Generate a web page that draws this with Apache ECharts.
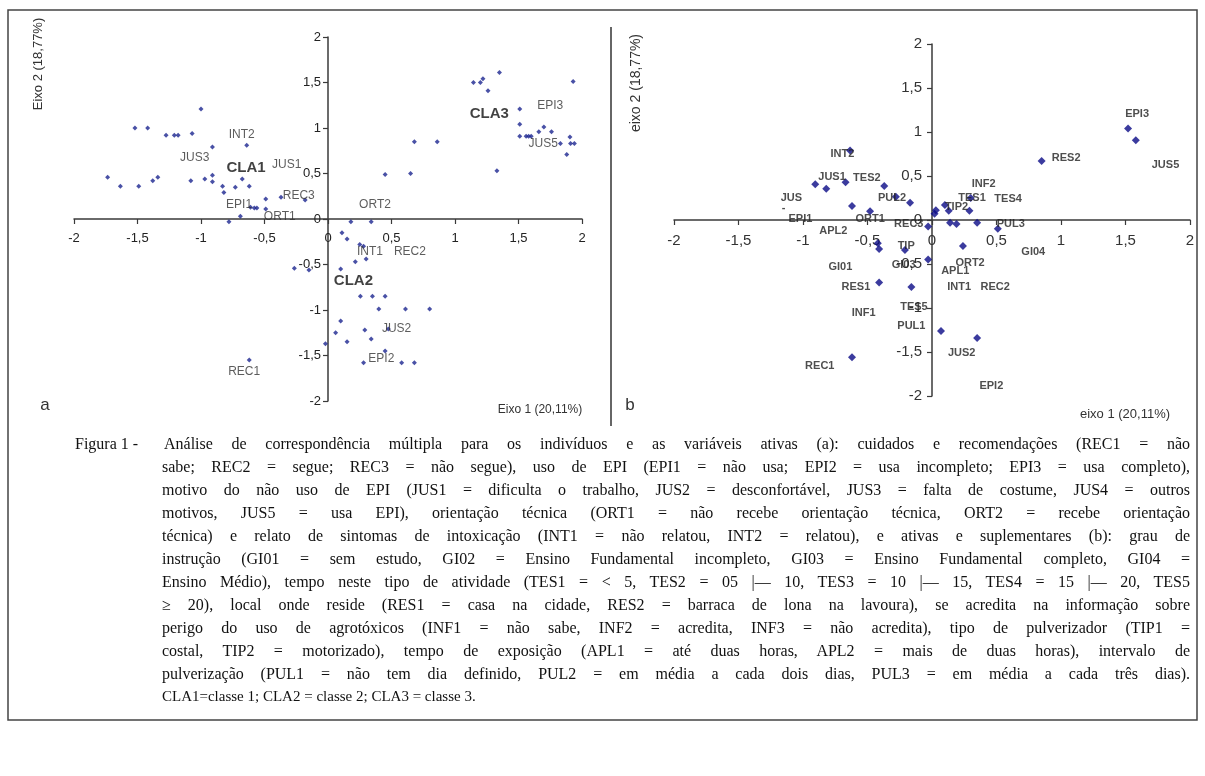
<!DOCTYPE html>
<html>
<head>
<meta charset="utf-8">
<script src="https://cdn.jsdelivr.net/npm/echarts@6/dist/echarts.min.js"></script>
<style>
  html, body { margin: 0; padding: 0; background: #fff; }
  #wrap { position: relative; width: 1205px; height: 776px; overflow: hidden; }
  #chart { position: absolute; left: 0; top: 0; width: 1205px; height: 776px; }
  #caption { position: absolute; left: 0; top: 0; width: 1205px; font-family: "Liberation Serif", "Times New Roman", serif; font-size: 16px; color: #111; }
  .cl { position: absolute; white-space: nowrap; line-height: 23px; height: 23px; text-align: justify; text-align-last: justify; }
  .cl.last { text-align: left; text-align-last: left; }
  .cl.small { font-size: 15px; }
</style>
</head>
<body>
<div id="wrap">
  <div id="chart"></div>
  <div id="caption"></div>
</div>
<script>
// ---------- data: panel (a) ----------
const ticksA = [-2, -1.5, -1, -0.5, 0, 0.5, 1, 1.5, 2];
const pointsA_cla1 = [
  [-1.735,0.46],[-1.635,0.36],[-1.52,1.0],[-1.42,1.0],[-1.49,0.36],[-1.38,0.42],[-1.34,0.46],
  [-1.275,0.92],[-1.21,0.92],[-1.18,0.92],[-1.07,0.94],[-1.0,1.21],[-1.08,0.42],[-0.97,0.44],
  [-0.91,0.79],[-0.91,0.48],[-0.91,0.41],[-0.83,0.36],[-0.82,0.29],[-0.73,0.35],[-0.675,0.44],
  [-0.64,0.81],[-0.62,0.36],[-0.49,0.22],[-0.37,0.24],[-0.18,0.21],[-0.61,0.13],[-0.58,0.12],
  [-0.56,0.12],[-0.49,0.11],[-0.69,0.03],[-0.78,-0.03],[-0.265,-0.54],[-0.15,-0.56],
  [-0.02,-1.37],[-0.62,-1.55]
];
const pointsA_cla3 = [
  [0.45,0.49],[0.65,0.5],[0.68,0.85],[0.86,0.85],[1.145,1.50],[1.20,1.50],[1.22,1.54],
  [1.26,1.41],[1.35,1.61],[1.33,0.53],[1.51,1.21],[1.51,1.04],[1.51,0.91],[1.56,0.91],
  [1.58,0.91],[1.60,0.91],[1.66,0.96],[1.70,1.01],[1.76,0.96],[1.83,0.83],[1.905,0.90],
  [1.91,0.83],[1.94,0.83],[1.88,0.71],[1.93,1.51]
];
const pointsA_cla2 = [
  [0.18,-0.03],[0.34,-0.03],[0.11,-0.15],[0.15,-0.22],[0.25,-0.28],[0.28,-0.30],[0.30,-0.44],
  [0.215,-0.47],[0.10,-0.55],[0.255,-0.85],[0.35,-0.85],[0.45,-0.85],[0.40,-0.99],[0.61,-0.99],
  [0.80,-0.99],[0.10,-1.12],[0.06,-1.25],[0.29,-1.22],[0.15,-1.35],[0.34,-1.32],[0.475,-1.21],
  [0.45,-1.45],[0.28,-1.58],[0.58,-1.58],[0.68,-1.58]
];
const labelNamesA = ['INT2','JUS3','JUS1','REC3','EPI1','ORT1','ORT2','EPI3','JUS5','INT1','REC2','JUS2','EPI2','REC1'];
const labelPosA  = [[-0.68,0.93],[-1.05,0.67],[-0.325,0.60],[-0.23,0.26],[-0.70,0.16],[-0.38,0.03],[0.37,0.16],
                    [1.75,1.25],[1.695,0.83],[0.33,-0.36],[0.645,-0.36],[0.54,-1.21],[0.42,-1.53],[-0.66,-1.68]];
const classNamesA = ['CLA1','CLA2','CLA3'];
const classPosA   = [[-0.645,0.56],[0.20,-0.68],[1.27,1.15]];

// ---------- data: panel (b) ----------
const pointsB = [
  [1.52,1.04],[1.58,0.905],[0.85,0.67],[-0.635,0.79],[-0.905,0.405],[-0.82,0.355],[-0.67,0.43],
  [-0.37,0.385],[-0.28,0.265],[-0.17,0.195],[-0.62,0.16],[-0.48,0.10],[0.03,0.11],[0.02,0.07],
  [0.10,0.17],[0.13,0.105],[0.29,0.105],[0.30,0.25],[0.14,-0.03],[0.19,-0.045],[0.35,-0.03],
  [0.51,-0.10],[-0.03,-0.075],[0.24,-0.295],[-0.03,-0.45],[-0.21,-0.34],[-0.42,-0.265],
  [-0.41,-0.33],[-0.41,-0.71],[-0.16,-0.76],[0.07,-1.26],[0.35,-1.34],[-0.62,-1.56]
];
const labelNamesB = ['EPI3','JUS5','RES2','INF2','TES1','TES4','TIP2','PUL3','GI04','ORT2','APL1','INT1','REC2',
                     'JUS2','EPI2','REC1','PUL1','INF1','TES5','RES1','GI01','GI03','TIP','APL2','REC3','ORT1',
                     'EPI1','JUS','-','JUS1','TES2','PUL2','INT2'];
const labelPosB  = [[1.59,1.21],[1.81,0.63],[1.04,0.70],[0.40,0.41],[0.31,0.25],[0.59,0.24],[0.19,0.15],[0.61,-0.045],
                    [0.785,-0.36],[0.295,-0.49],[0.18,-0.58],[0.21,-0.76],[0.49,-0.76],[0.23,-1.51],[0.46,-1.89],
                    [-0.87,-1.66],[-0.16,-1.20],[-0.53,-1.06],[-0.14,-0.985],[-0.59,-0.76],[-0.71,-0.53],
                    [-0.22,-0.51],[-0.20,-0.30],[-0.765,-0.13],[-0.18,-0.05],[-0.48,0.01],[-1.02,0.01],
                    [-1.09,0.25],[-1.15,0.14],[-0.775,0.49],[-0.505,0.48],[-0.31,0.25],[-0.695,0.75]];

// ---------- caption ----------
const captionHead = 'Figura 1 -';
const captionLines = [
  'Análise de correspondência múltipla para os indivíduos e as variáveis ativas (a): cuidados e recomendações (REC1 = não',
  'sabe; REC2 = segue; REC3 = não segue), uso de EPI (EPI1 = não usa; EPI2 = usa incompleto; EPI3 = usa completo),',
  'motivo do não uso de EPI (JUS1 = dificulta o trabalho, JUS2 = desconfortável, JUS3 = falta de costume, JUS4 = outros',
  'motivos, JUS5 = usa EPI), orientação técnica (ORT1 = não recebe orientação técnica, ORT2 = recebe orientação',
  'técnica) e relato de sintomas de intoxicação (INT1 = não relatou, INT2 = relatou), e ativas e suplementares (b): grau de',
  'instrução (GI01 = sem estudo, GI02 = Ensino Fundamental incompleto, GI03 = Ensino Fundamental completo, GI04 =',
  'Ensino Médio), tempo neste tipo de atividade (TES1 = < 5, TES2 = 05 |— 10, TES3 = 10 |— 15, TES4 = 15 |— 20, TES5',
  '≥ 20), local onde reside (RES1 = casa na cidade, RES2 = barraca de lona na lavoura), se acredita na informação sobre',
  'perigo do uso de agrotóxicos (INF1 = não sabe, INF2 = acredita, INF3 = não acredita), tipo de pulverizador (TIP1 =',
  'costal, TIP2 = motorizado), tempo de exposição (APL1 = até duas horas, APL2 = mais de duas horas), intervalo de',
  'pulverização (PUL1 = não tem dia definido, PUL2 = em média a cada dois dias, PUL3 = em média a cada três dias).',
  'CLA1=classe 1; CLA2 = classe 2; CLA3 = classe 3.'
];

// build caption
const cap = document.getElementById('caption');
const head = document.createElement('div');
head.className = 'cl last';
head.textContent = captionHead;
head.style.left = '75px';
head.style.top = '432px';
cap.appendChild(head);
captionLines.forEach((t, i) => {
  const d = document.createElement('div');
  const isLast = i === captionLines.length - 1;
  d.className = 'cl' + (isLast ? ' last small' : '');
  d.textContent = t;
  const left = i === 0 ? 164 : 162;
  d.style.left = left + 'px';
  d.style.width = isLast ? 'auto' : (1190 - left) + 'px';
  d.style.top = (432 + i * 23) + 'px';
  cap.appendChild(d);
});

const comma = v => String(v).replace('.', ',');
const sans = 'Liberation Sans, Arial, sans-serif';

function axis(grid, pos, offset, fs, color, margin) {
  return {
    type: 'value', gridIndex: grid, min: -2, max: 2, interval: 0.5,
    position: pos, offset: offset,
    axisLine: { onZero: false, lineStyle: { color: '#3a3a3a', width: 1.5 } },
    axisTick: { show: true, length: 5, lineStyle: { color: '#3a3a3a', width: 1.2 } },
    splitLine: { show: false },
    axisLabel: { formatter: comma, fontSize: fs, color: color, fontFamily: sans, margin: margin }
  };
}

const chart = echarts.init(document.getElementById('chart'), null, { renderer: 'canvas' });
const option = {
  animation: false,
  backgroundColor: '#fff',
  grid: [
    { left: 74, top: 37, width: 508, height: 364 },
    { left: 674, top: 44, width: 516, height: 352 }
  ],
  xAxis: [ axis(0, 'bottom', -182, 13, '#222', 13), axis(1, 'bottom', -176, 15, '#333', 13) ],
  yAxis: [ axis(0, 'left', -254, 13, '#222', 7), axis(1, 'left', -258, 15, '#333', 10) ],
  series: [
    { type: 'scatter', xAxisIndex: 0, yAxisIndex: 0, symbol: 'diamond', symbolSize: 5,
      itemStyle: { color: '#1b2590' }, data: pointsA_cla1.concat(pointsA_cla3, pointsA_cla2), z: 3 },
    { type: 'scatter', xAxisIndex: 0, yAxisIndex: 0, symbolSize: 0, silent: true, z: 4,
      label: { show: true, position: 'inside', formatter: p => p.name, fontSize: 12, color: '#333', fontFamily: sans },
      data: labelNamesA.map((n, i) => ({ name: n, value: labelPosA[i] })) },
    { type: 'scatter', xAxisIndex: 0, yAxisIndex: 0, symbolSize: 0, silent: true, z: 4,
      label: { show: true, position: 'inside', formatter: p => p.name, fontSize: 15, fontWeight: 'bold', color: '#111', fontFamily: sans },
      data: classNamesA.map((n, i) => ({ name: n, value: classPosA[i] })) },
    { type: 'scatter', xAxisIndex: 1, yAxisIndex: 1, symbol: 'diamond', symbolSize: 8,
      itemStyle: { color: '#0a0a86' }, data: pointsB, z: 3 },
    { type: 'scatter', xAxisIndex: 1, yAxisIndex: 1, symbolSize: 0, silent: true, z: 4,
      label: { show: true, position: 'inside', formatter: p => p.name, fontSize: 11, fontWeight: 'bold', color: '#222', fontFamily: sans },
      data: labelNamesB.map((n, i) => ({ name: n, value: labelPosB[i] })) }
  ],
  graphic: [
    { type: 'rect', shape: { x: 8, y: 10, width: 1189, height: 710 }, style: { fill: 'none', stroke: '#444', lineWidth: 1.5 }, silent: true },
    { type: 'line', shape: { x1: 611, y1: 27, x2: 611, y2: 426 }, style: { stroke: '#333', lineWidth: 1.5 }, silent: true },
    { type: 'text', x: 38, y: 64, rotation: Math.PI / 2, style: { text: 'Eixo 2 (18,77%)', font: '13px ' + sans, fill: '#333', align: 'center', verticalAlign: 'middle' } },
    { type: 'text', x: 540, y: 410, style: { text: 'Eixo 1 (20,11%)', font: '12px ' + sans, fill: '#333', align: 'center', verticalAlign: 'middle' } },
    { type: 'text', x: 45, y: 405, style: { text: 'a', font: '17px ' + sans, fill: '#333', align: 'center', verticalAlign: 'middle' } },
    { type: 'text', x: 636, y: 83, rotation: Math.PI / 2, style: { text: 'eixo 2 (18,77%)', font: '14px ' + sans, fill: '#333', align: 'center', verticalAlign: 'middle' } },
    { type: 'text', x: 1125, y: 414, style: { text: 'eixo 1 (20,11%)', font: '13px ' + sans, fill: '#333', align: 'center', verticalAlign: 'middle' } },
    { type: 'text', x: 630, y: 405, style: { text: 'b', font: '17px ' + sans, fill: '#333', align: 'center', verticalAlign: 'middle' } }
  ]
};
chart.setOption(option);
</script>
</body>
</html>
